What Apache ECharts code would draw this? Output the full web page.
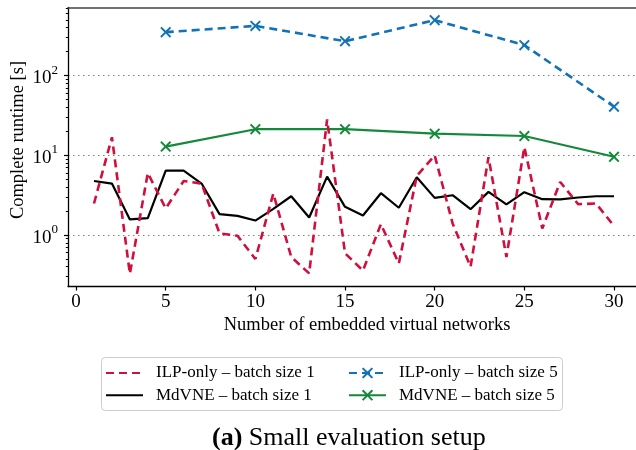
<!DOCTYPE html>
<html>
<head>
<meta charset="utf-8">
<script src="https://cdn.jsdelivr.net/npm/echarts@6/dist/echarts.min.js"></script>
<style>
  html, body { margin: 0; padding: 0; background: #fff; }
  #chart { width: 636px; height: 450px; }
</style>
</head>
<body>
<div id="chart"></div>
<script>
// number of embedded virtual networks
const steps = [1, 2, 3, 4, 5, 6, 7, 8, 9, 10, 11, 12, 13, 14, 15, 16, 17, 18, 19, 20, 21, 22, 23, 24, 25, 26, 27, 28, 29, 30];
const batchSteps = [5, 10, 15, 20, 25, 30];

// complete runtime [s]
const ilpBatch1 = [2.49, 16.9, 0.326, 6.0, 2.16, 4.77, 4.43, 1.05, 0.98, 0.50, 3.32, 0.53, 0.33, 28.2, 0.59, 0.358, 1.37, 0.44, 5.5, 10.0, 1.4, 0.40, 9.5, 0.53, 12.7, 1.21, 4.64, 2.44, 2.49, 1.30];
const mdvneBatch1 = [4.77, 4.43, 1.57, 1.63, 6.43, 6.43, 4.43, 1.83, 1.74, 1.52, 2.13, 3.07, 1.66, 5.41, 2.26, 1.76, 3.35, 2.2, 5.31, 2.93, 3.16, 2.11, 3.48, 2.42, 3.45, 2.82, 2.8, 2.96, 3.07, 3.07];
const ilpBatch5 = [352, 422, 271, 498, 242, 40.9];
const mdvneBatch5 = [12.9, 21.3, 21.3, 18.7, 17.5, 9.6];

const xTicks = [0, 5, 10, 15, 20, 25, 30];
const yTicks = [1, 10, 100];
const yMinorTicks = [0.3, 0.4, 0.5, 0.6, 0.7, 0.8, 0.9,
  2, 3, 4, 5, 6, 7, 8, 9, 20, 30, 40, 50, 60, 70, 80, 90, 200, 300, 400, 500, 600, 700];

const names = ['ILP-only – batch size 1', 'MdVNE – batch size 1', 'ILP-only – batch size 5', 'MdVNE – batch size 5'];
const colors = ['#cf0f3c', '#000000', '#1272b6', '#14893b'];

const FONT = '"Liberation Serif", "DejaVu Serif", serif';
const CROSS = 'path://M0,1.5L1.5,0L6,4.5L10.5,0L12,1.5L7.5,6L12,10.5L10.5,12L6,7.5L1.5,12L0,10.5L4.5,6Z';

const pairs = (xs, ys) => xs.map((x, i) => [x, ys[i]]);
// legend entries of the plain lines get no marker
const noMarker = name => ({name: name, itemStyle: {color: 'rgba(0,0,0,0)', borderWidth: 0}});

const chart = echarts.init(document.getElementById('chart'));

const xBase = {
  type: 'value', min: -0.45, max: 31.45,
  splitLine: {show: false}
};
const yBase = {
  type: 'log', logBase: 10, min: 0.226, max: 718
};
const legendBase = {
  orient: 'vertical', top: 364.5, padding: 0,
  itemWidth: 37, itemHeight: 14, itemGap: 5.2,
  textStyle: {fontFamily: FONT, fontSize: 17, color: '#000', padding: [0, 0, 0, 8]}
};

const option = {
  backgroundColor: '#fff',
  animation: false,
  title: {
    text: '{b|(a)} Small evaluation setup',
    left: 207, top: 420,
    textStyle: {
      fontFamily: FONT, fontSize: 26, fontWeight: 'normal', color: '#000',
      rich: {b: {fontFamily: FONT, fontSize: 26, fontWeight: 'bold', color: '#000'}}
    }
  },
  grid: {left: 68, top: 7.5, width: 572, height: 279, containLabel: false, outerBoundsMode: 'none'},
  graphic: [{
    type: 'rect', left: 101, top: 357, z: -1,
    shape: {width: 461, height: 53, r: 4},
    style: {fill: '#fff', stroke: '#cccccc', lineWidth: 1}
  }],
  legend: [{
    ...legendBase, left: 105,
    data: [noMarker(names[0]), noMarker(names[1])]
  }, {
    ...legendBase, left: 348,
    data: [names[2], names[3]]
  }],
  xAxis: [{
    ...xBase,
    position: 'bottom',
    name: 'Number of embedded virtual networks',
    nameLocation: 'middle', nameGap: 29, nameMoveOverlap: false,
    nameTextStyle: {fontFamily: FONT, fontSize: 18.5, color: '#000', padding: [0, 0, 0, 26]},
    axisLine: {onZero: false, lineStyle: {color: '#000', width: 1.3}},
    axisTick: {customValues: xTicks, length: 4, lineStyle: {color: '#000', width: 1.2}},
    axisLabel: {customValues: xTicks, margin: 6, fontFamily: FONT, fontSize: 19, color: '#000'}
  }, {
    ...xBase,
    position: 'top',
    axisLine: {onZero: false, lineStyle: {color: '#444', width: 1.6}},
    axisTick: {show: false},
    axisLabel: {show: false}
  }],
  yAxis: [{
    ...yBase,
    position: 'left',
    name: 'Complete runtime [s]',
    nameLocation: 'middle', nameGap: 40, nameMoveOverlap: false,
    nameTextStyle: {fontFamily: FONT, fontSize: 18.5, color: '#000', padding: [0, 0, 0, 14]},
    axisLine: {onZero: false, lineStyle: {color: '#000', width: 1.3}},
    axisTick: {customValues: yTicks, length: 4, lineStyle: {color: '#000', width: 1.2}},
    axisLabel: {
      customValues: yTicks, margin: 10,
      formatter: function (v) {
        return '{b|10}{s|' + Math.round(Math.log10(v)) + '}';
      },
      rich: {
        b: {fontFamily: FONT, fontSize: 19, color: '#000', lineHeight: 24, verticalAlign: 'bottom'},
        s: {fontFamily: FONT, fontSize: 13, color: '#000', lineHeight: 24, verticalAlign: 'top'}
      }
    },
    splitLine: {
      show: true,
      lineStyle: {color: '#808080', width: 1.2, type: [1.5, 3.5]}
    }
  }, {
    ...yBase,
    position: 'left',
    axisLine: {show: false, onZero: false},
    axisTick: {customValues: yMinorTicks, length: 2.2, lineStyle: {color: '#000', width: 1}},
    axisLabel: {show: false},
    splitLine: {show: false}
  }],
  series: [{
    name: names[1], type: 'line', data: pairs(steps, mdvneBatch1),
    symbol: 'none', color: colors[1],
    lineStyle: {color: colors[1], width: 2.2}, z: 3
  }, {
    name: names[3], type: 'line', data: pairs(batchSteps, mdvneBatch5),
    symbol: CROSS, symbolSize: 11, color: colors[3],
    itemStyle: {color: colors[3]},
    lineStyle: {color: colors[3], width: 2.2}, z: 3
  }, {
    name: names[2], type: 'line', data: pairs(batchSteps, ilpBatch5),
    symbol: CROSS, symbolSize: 11, color: colors[2],
    itemStyle: {color: colors[2]},
    lineStyle: {color: colors[2], width: 2.6, type: [8, 5]}, z: 3
  }, {
    name: names[0], type: 'line', data: pairs(steps, ilpBatch1),
    symbol: 'none', color: colors[0],
    lineStyle: {color: colors[0], width: 2.6, type: [8, 5]}, z: 4
  }]
};

chart.setOption(option);
</script>
</body>
</html>
